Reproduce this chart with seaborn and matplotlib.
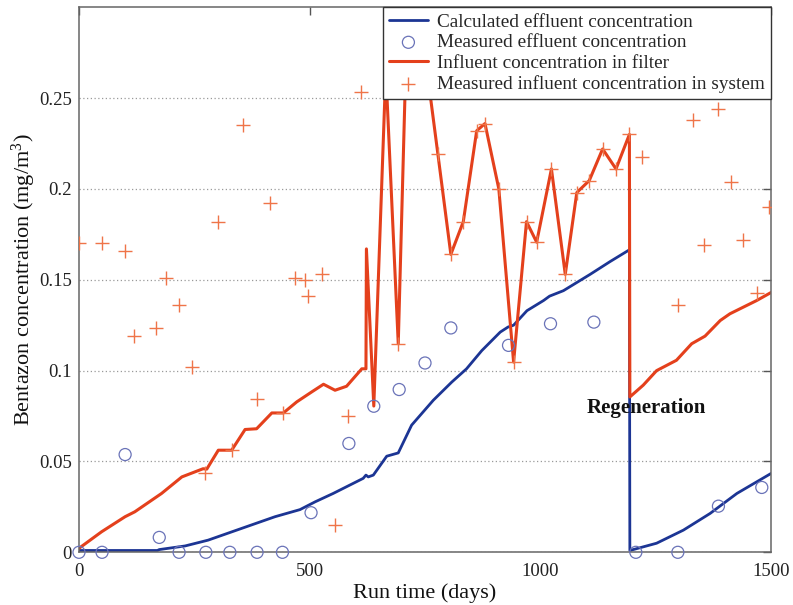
import numpy as np
import pandas as pd
import matplotlib
matplotlib.use("Agg")
import matplotlib.pyplot as plt
import seaborn as sns

# --- Calculated effluent concentration (model) ---
calc_days = [0, 170, 174, 230, 280, 353, 425, 479, 512, 551, 616, 622, 627, 638,
             667, 692, 721, 768, 808, 840, 873, 913, 930, 942, 971, 1007, 1020,
             1050, 1108, 1151, 1193, 1194, 1252, 1310, 1368, 1426, 1500]
calc_conc = [0.001, 0.001, 0.0015, 0.0035, 0.0067, 0.0132, 0.0196, 0.0235, 0.0278,
             0.0324, 0.0407, 0.0425, 0.0415, 0.0425, 0.0529, 0.0547, 0.070, 0.0837,
             0.0937, 0.101, 0.111, 0.1212, 0.124, 0.125, 0.133, 0.1386, 0.141,
             0.144, 0.153, 0.160, 0.1665, 0.001, 0.005, 0.0122, 0.0214, 0.0324,
             0.0434]

# --- Measured effluent concentration ---
eff_days = [0, 50, 100, 174, 217, 275, 327, 386, 441, 503, 585, 639, 694, 750,
            806, 931, 1022, 1116, 1207, 1298, 1386, 1480]
eff_conc = [0, 0, 0.0538, 0.0082, 0, 0, 0, 0, 0, 0.0218, 0.0599, 0.0804, 0.0896,
            0.1042, 0.1235, 0.1139, 0.1258, 0.1267, 0, 0, 0.0254, 0.0357]

# --- Influent concentration in filter ---
filt_days = [0, 49, 100, 121, 179, 223, 269, 277, 302, 331, 360, 385, 418, 443,
             472, 504, 530, 555, 580, 613, 622, 623, 639, 665, 692, 716, 778, 806,
             833, 862, 880, 910, 942, 970, 992, 1024, 1054, 1079, 1106, 1135, 1164,
             1193, 1194, 1223, 1252, 1295, 1328, 1357, 1390, 1411, 1469, 1500]
filt_conc = [0.0022, 0.0113, 0.0196, 0.0223, 0.0324, 0.0415, 0.046, 0.0458, 0.0562,
             0.0562, 0.0676, 0.068, 0.0767, 0.0767, 0.0828, 0.0882, 0.0925, 0.0892,
             0.0914, 0.101, 0.101, 0.167, 0.0805, 0.265, 0.1148, 0.34, 0.219, 0.164,
             0.182, 0.232, 0.236, 0.200, 0.1047, 0.182, 0.1707, 0.211, 0.153, 0.198,
             0.2046, 0.222, 0.211, 0.230, 0.0855, 0.092, 0.100, 0.1057, 0.1148,
             0.119, 0.1276, 0.1313, 0.1386, 0.143]

# --- Measured influent concentration in system ---
infl_days = [0, 50, 100, 119, 167, 188, 217, 246, 273, 302, 331, 356, 385, 415,
             443, 468, 490, 497, 526, 555, 584, 611, 692, 778, 806, 833, 862, 880,
             910, 942, 970, 992, 1024, 1054, 1079, 1106, 1135, 1164, 1193, 1220,
             1299, 1330, 1355, 1386, 1413, 1440, 1470, 1496]
infl_conc = [0.170, 0.170, 0.166, 0.1188, 0.1236, 0.151, 0.1359, 0.102, 0.0437,
             0.1817, 0.0562, 0.235, 0.0846, 0.192, 0.0767, 0.151, 0.150, 0.1408,
             0.153, 0.015, 0.075, 0.2536, 0.1148, 0.219, 0.164, 0.182, 0.232, 0.236,
             0.200, 0.1047, 0.182, 0.1707, 0.211, 0.153, 0.198, 0.2046, 0.222,
             0.211, 0.230, 0.2174, 0.136, 0.238, 0.169, 0.244, 0.204, 0.172,
             0.1426, 0.190]

x_ticks = [0, 500, 1000, 1500]
y_ticks = [0, 0.05, 0.1, 0.15, 0.2, 0.25]
y_tick_labels = ["0", "0.05", "0.1", "0.15", "0.2", "0.25"]

BLUE = "#1c3594"
CIRCLE = "#6a73b8"
RED = "#e4401c"
PLUS = "#ef7448"

sns.set_theme(style="white")
plt.rcParams["font.family"] = ["Liberation Serif", "DejaVu Serif"]
plt.rcParams["mathtext.fontset"] = "custom"
plt.rcParams["mathtext.rm"] = "Liberation Serif"
plt.rcParams["mathtext.default"] = "regular"

fig = plt.figure(figsize=(7.93, 6.05), dpi=100)
ax = fig.add_axes([0.0996, 0.0871, 0.8727, 0.9009])

calc_df = pd.DataFrame({"day": calc_days, "conc": calc_conc})
eff_df = pd.DataFrame({"day": eff_days, "conc": eff_conc})
filt_df = pd.DataFrame({"day": filt_days, "conc": filt_conc})
infl_df = pd.DataFrame({"day": infl_days, "conc": infl_conc})

sns.lineplot(data=calc_df, x="day", y="conc", sort=False, estimator=None,
             color=BLUE, linewidth=2.0, ax=ax,
             label="Calculated effluent concentration")
sns.scatterplot(data=eff_df, x="day", y="conc", marker="o", s=75,
                facecolor="none", edgecolor=CIRCLE, linewidth=0.9, ax=ax,
                label="Measured effluent concentration", clip_on=False, zorder=3)
sns.lineplot(data=filt_df, x="day", y="conc", sort=False, estimator=None,
             color=RED, linewidth=2.2, ax=ax,
             label="Influent concentration in filter")
sns.scatterplot(data=infl_df, x="day", y="conc", marker="+", s=90,
                color=PLUS, linewidth=1.0, ax=ax,
                label="Measured influent concentration in system", zorder=3)

ax.text(1230, 0.0795, "Regeneration", ha="center", va="center",
        fontsize=15, fontweight="bold", color="#111111", zorder=5)

ax.set_xlim(0, 1500)
ax.set_ylim(0, 0.3)
ax.set_xticks(x_ticks)
ax.set_yticks(y_ticks)
ax.set_yticklabels(y_tick_labels)
ax.yaxis.grid(True, linestyle=(0, (1, 2)), color="#9a9a9a", linewidth=0.9)
ax.xaxis.grid(False)

ax.tick_params(axis="both", which="major", direction="in", length=6, width=1,
               color="#555555", labelsize=13.5, labelcolor="#222222",
               top=True, right=True)
ax.tick_params(axis="x", pad=8)
ax.tick_params(axis="y", pad=5)
for sp in ax.spines.values():
    sp.set_color("#666666")
    sp.set_linewidth(1.1)

ax.set_xlabel("Run time (days)", fontsize=16, labelpad=2, color="#111111")
ax.set_ylabel("Bentazon concentration (mg/m$^3$)", fontsize=16, labelpad=0.5,
              color="#111111")

leg = ax.legend(loc="upper right", borderaxespad=0, fontsize=13.9,
                frameon=True, fancybox=False, framealpha=1, edgecolor="#333333",
                handlelength=2.0, handletextpad=0.5, labelspacing=0.17,
                borderpad=0.3)
leg.get_frame().set_linewidth(1.0)
leg.set_zorder(10)

fig.savefig("out.png", dpi=100)
